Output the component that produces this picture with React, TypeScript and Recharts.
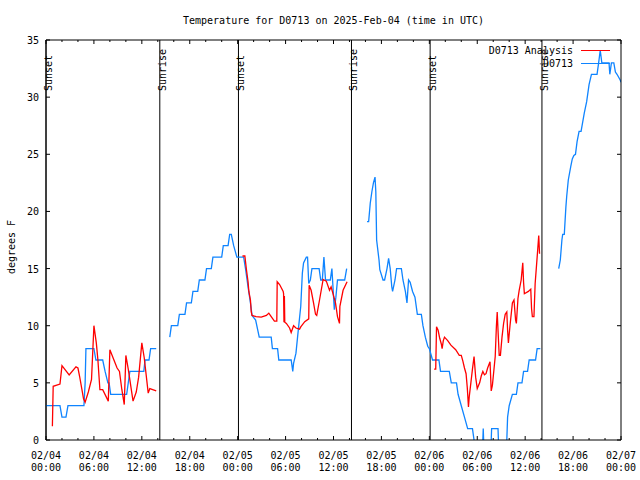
import React from 'react';
import { LineChart, Line, XAxis, YAxis, ReferenceLine, Legend } from 'recharts';

const FONT = '"DejaVu Sans Mono", monospace';
const RED = '#ff0000';
const BLUE = '#0f84ff';

// hours since 02/04 00:00 UTC -> temperature (F)
const ANALYSIS_DAY1 = [
  [0.8, 1.2], [0.9, 4.7], [1.75, 4.9], [2.0, 6.5], [2.9, 5.7], [3.75, 6.4], [4.0, 6.3],
  [4.2, 5.6], [4.5, 4.4], [4.7, 3.6], [4.9, 3.3], [5.3, 4.2], [5.7, 5.3], [6.0, 10.0],
  [6.3, 8.5], [6.5, 7.0], [6.75, 4.4], [7.1, 4.4], [7.8, 3.4], [8.0, 7.9], [8.9, 6.3],
  [9.2, 6.0], [9.5, 4.4], [9.8, 3.1], [10.0, 7.4], [10.3, 6.2], [10.9, 3.4], [11.3, 4.2],
  [11.6, 5.5], [12.0, 8.5], [12.3, 7.2], [12.8, 4.1], [13.0, 4.5], [13.8, 4.3],
];
const ANALYSIS_DAY2 = [
  [24.6, 16.1], [24.9, 16.1], [25.1, 14.9], [25.3, 13.85], [25.4, 13.0], [25.6, 12.25],
  [25.7, 11.2], [25.8, 10.9], [26.3, 10.8], [26.95, 10.75], [27.6, 10.9], [27.9, 11.1],
  [28.2, 10.8], [28.6, 10.4], [28.9, 10.4], [28.95, 13.85], [29.25, 13.6], [29.7, 13.0],
  [29.75, 12.8], [29.8, 10.3], [29.85, 12.6], [29.9, 10.3], [30.1, 10.2], [30.5, 9.8],
  [30.7, 9.4], [30.8, 9.6], [31.0, 10.0], [31.3, 9.8], [31.75, 9.7], [31.9, 9.9],
  [32.4, 10.35], [32.9, 10.6], [32.95, 13.55], [33.2, 13.1], [33.5, 12.0], [33.75, 11.0],
  [33.9, 10.9], [34.25, 12.25], [34.7, 14.05], [35.1, 13.9], [35.5, 13.1], [35.7, 13.4],
  [36.25, 12.0], [36.5, 10.8], [36.75, 10.2], [36.8, 11.7], [37.2, 13.1], [37.7, 13.85],
];
const ANALYSIS_DAY3 = [
  [48.6, 6.2], [48.8, 6.2], [48.9, 9.9], [49.1, 9.6], [49.3, 8.9], [49.5, 8.4], [49.6, 8.0],
  [49.75, 8.7], [49.9, 9.0], [50.3, 8.7], [50.7, 8.3], [51.3, 7.9], [51.75, 7.4], [52.0, 7.4],
  [52.2, 6.9], [52.4, 6.3], [52.6, 5.8], [52.75, 4.6], [52.9, 2.9], [53.0, 3.8], [53.2, 5.0],
  [53.4, 6.2], [53.6, 7.3], [53.8, 5.5], [54.0, 4.5], [54.3, 5.0], [54.5, 5.6], [54.7, 6.0],
  [54.9, 5.7], [55.1, 5.8], [55.3, 6.3], [55.6, 6.85], [55.75, 4.3], [55.9, 4.8], [56.25, 7.3],
  [56.4, 10.0], [56.5, 11.2], [56.6, 9.6], [56.75, 7.4], [56.9, 7.4], [57.1, 9.0], [57.3, 10.2],
  [57.5, 11.0], [57.7, 11.2], [57.8, 9.6], [57.9, 8.5], [58.1, 10.0], [58.4, 12.0], [58.6, 12.25],
  [58.8, 10.5], [58.9, 10.2], [59.1, 12.4], [59.25, 13.1], [59.5, 14.0], [59.7, 15.5],
  [59.8, 13.8], [59.9, 12.8], [60.4, 13.0], [60.7, 13.2], [60.8, 11.5], [60.9, 10.8],
  [61.1, 10.8], [61.25, 13.7], [61.5, 16.0], [61.7, 17.9], [61.8, 16.3],
];

const OBS_DAY1 = [
  [0, 3], [1.75, 3], [2.0, 2], [2.5, 2], [2.75, 3], [4.75, 3], [4.9, 5], [5.0, 8], [6.0, 8],
  [6.25, 7], [7.1, 7], [7.4, 6], [7.75, 5], [7.9, 5], [8.1, 4], [10.1, 4], [10.3, 5],
  [10.5, 6], [12.25, 6], [12.4, 7], [12.9, 7], [13.1, 8], [13.8, 8],
];
const OBS_DAY2 = [
  [15.5, 9], [15.7, 10], [16.5, 10], [16.7, 11], [17.4, 11], [17.6, 12], [18.2, 12], [18.4, 13],
  [19.0, 13], [19.2, 14], [19.9, 14], [20.1, 15], [20.7, 15], [20.9, 16], [22.0, 16], [22.2, 17],
  [22.8, 17], [23.0, 18], [23.2, 18], [23.5, 17], [23.7, 16.5], [23.9, 16], [24.75, 16],
  [25.0, 14.9], [25.3, 13.4], [25.6, 12.0], [25.8, 10.9], [26.25, 10.5], [26.7, 9], [28.2, 9],
  [28.35, 8], [29.0, 8], [29.15, 7], [30.7, 7], [30.9, 6], [31.0, 6.7], [31.3, 7.6], [31.5, 9],
  [31.9, 11.7], [32.1, 14.6], [32.25, 15.5], [32.6, 16], [32.75, 16], [32.9, 13.7], [33.1, 14],
  [33.3, 15], [34.2, 15], [34.4, 14], [34.6, 14], [34.8, 16], [35.0, 14], [35.6, 14], [35.8, 15],
  [36.1, 11.4], [36.3, 12.5], [36.5, 14], [37.4, 14], [37.65, 15],
];
const OBS_DAY3 = [
  [40.2, 19.1], [40.4, 19.1], [40.6, 20.7], [40.8, 21.7], [41.0, 22.5], [41.2, 23.0],
  [41.3, 21.7], [41.4, 17.5], [41.7, 15.75], [41.8, 14.9], [42.2, 14], [42.4, 14], [42.7, 15],
  [42.9, 15.9], [43.1, 15], [43.3, 13.4], [43.4, 13], [43.7, 14], [43.9, 15], [44.5, 15],
  [44.7, 14], [45.0, 13], [45.2, 12], [45.4, 14], [45.6, 13.8], [45.9, 13], [46.2, 12.5],
  [46.5, 11], [47.0, 11], [47.2, 10], [47.5, 9], [47.8, 8.2], [48.0, 8], [48.4, 7], [49.2, 7],
  [49.4, 6], [50.5, 6], [50.75, 5], [51.4, 5], [51.6, 4], [52.0, 3], [52.4, 2], [52.8, 1],
  [53.4, 1], [53.6, 0], [53.7, -1], [54.65, -1], [54.75, 1], [54.85, -1], [55.7, -1],
  [55.8, 1], [56.6, 1], [56.7, -1], [57.6, -1], [57.7, 0], [57.8, 2], [58.0, 3], [58.4, 4],
  [58.9, 4], [59.1, 5], [59.6, 5], [59.8, 6], [60.3, 6], [60.5, 7], [61.3, 7], [61.5, 8],
  [61.9, 8],
];
const OBS_DAY4 = [
  [64.2, 15], [64.4, 15.75], [64.6, 17.5], [64.7, 18], [64.9, 18], [65.1, 20.4], [65.2, 21.3],
  [65.4, 22.75], [65.7, 23.9], [65.9, 24.6], [66.1, 24.9], [66.3, 25], [66.5, 26.1], [66.75, 27],
  [67.0, 27], [67.4, 28.6], [67.7, 29.6], [68.0, 31.1], [68.3, 32], [69.0, 32], [69.2, 33],
  [69.4, 34.1], [69.6, 33], [70.5, 33], [70.6, 32], [70.8, 33], [71.1, 33], [71.3, 32.2],
  [71.5, 32], [71.9, 31.5], [72, 31.3],
];

// sunrise / sunset markers, hours
const SUN_EVENTS: [number, string][] = [
  [0, 'Sunset'], [14.25, 'Sunrise'], [24.1, 'Sunset'],
  [38.25, 'Sunrise'], [48.1, 'Sunset'], [62.1, 'Sunrise'],
];

const X_TICKS = Array.from({ length: 37 }, (_, i) => i * 2);
const DATE_LABELS = ['02/04', '02/04', '02/04', '02/04', '02/05', '02/05', '02/05', '02/05', '02/06', '02/06', '02/06', '02/06', '02/07'];
const TIME_LABELS = ['00:00', '06:00', '12:00', '18:00', '00:00', '06:00', '12:00', '18:00', '00:00', '06:00', '12:00', '18:00', '00:00'];
const Y_TICKS = [0, 5, 10, 15, 20, 25, 30, 35];

const LEGEND_ITEMS = [
  { name: 'D0713 Analysis', color: RED },
  { name: 'D0713', color: BLUE },
];

type Pt = { h: number; t: number | null };

// join segments, putting a null point between them so the line breaks
const joinSegments = (segs: number[][][]): Pt[] =>
  segs.flatMap((seg, i) => {
    const pts: Pt[] = seg.map(([h, t]) => ({ h, t }));
    if (i < segs.length - 1) {
      const gapAt = (seg[seg.length - 1][0] + segs[i + 1][0][0]) / 2;
      pts.push({ h: gapAt, t: null });
    }
    return pts;
  });

const analysisData = joinSegments([ANALYSIS_DAY1, ANALYSIS_DAY2, ANALYSIS_DAY3]);
const obsData = joinSegments([OBS_DAY1, OBS_DAY2, OBS_DAY3, OBS_DAY4]);

const BottomTick = (props: any) => {
  const { x, y, payload } = props;
  const h = payload.value;
  const major = h % 6 === 0;
  const i = h / 6;
  return (
    <g>
      <line x1={x} x2={x} y1={y} y2={y - (major ? 4 : 2)} stroke="#000" />
      {major && (
        <text x={x} textAnchor="middle" fontFamily={FONT} fontSize={10} fill="#000">
          <tspan x={x} y={y + 19}>{DATE_LABELS[i]}</tspan>
          <tspan x={x} y={y + 31}>{TIME_LABELS[i]}</tspan>
        </text>
      )}
    </g>
  );
};

const TopTick = (props: any) => {
  const { x, y, payload } = props;
  const major = payload.value % 6 === 0;
  return <line x1={x} x2={x} y1={y} y2={y + (major ? 4 : 2)} stroke="#000" />;
};

const LeftTick = (props: any) => {
  const { x, y, payload } = props;
  return (
    <g>
      <line x1={x} x2={x + 4} y1={y} y2={y} stroke="#000" />
      <text x={x - 7} y={y + 4} textAnchor="end" fontFamily={FONT} fontSize={10} fill="#000">
        {payload.value}
      </text>
    </g>
  );
};

const RightTick = (props: any) => {
  const { x, y } = props;
  return <line x1={x} x2={x - 4} y1={y} y2={y} stroke="#000" />;
};

const SunLabel = (props: any) => {
  const { viewBox, text } = props;
  if (!viewBox) return null;
  const x = viewBox.x + 6;
  const y = viewBox.y + 51;
  return (
    <text x={x} y={y} transform={`rotate(-90 ${x} ${y})`} fontFamily={FONT} fontSize={10} fill="#000">
      {text}
    </text>
  );
};

const TitleLabel = (props: any) => {
  const { viewBox } = props;
  if (!viewBox) return null;
  return (
    <text x={viewBox.x + viewBox.width / 2} y={24} textAnchor="middle" fontFamily={FONT} fontSize={10} fill="#000">
      Temperature for D0713 on 2025-Feb-04 (time in UTC)
    </text>
  );
};

const YTitle = (props: any) => {
  const { viewBox } = props;
  if (!viewBox) return null;
  const x = 15;
  const y = viewBox.y + 207;
  return (
    <text x={x} y={y} transform={`rotate(-90 ${x} ${y})`} textAnchor="middle" fontFamily={FONT} fontSize={10} fill="#000">
      degrees F
    </text>
  );
};

const LegendBox = () => (
  <div style={{ fontFamily: FONT, fontSize: 10, lineHeight: '13px', color: '#000' }}>
    {LEGEND_ITEMS.map((it) => (
      <div key={it.name} style={{ display: 'flex', alignItems: 'center', justifyContent: 'flex-end', height: 13 }}>
        <span style={{ whiteSpace: 'pre' }}>{it.name}</span>
        <span style={{ display: 'inline-block', width: 29, borderTop: `1px solid ${it.color}`, marginLeft: 8 }} />
      </div>
    ))}
  </div>
);

export default function App() {
  return (
    <div style={{ position: 'absolute', left: 0, top: 0, width: 640, height: 480, background: '#fff' }}>
      <LineChart width={640} height={480} margin={{ top: 0, right: 0, bottom: 0, left: 0 }}>
        <XAxis
          xAxisId="b"
          dataKey="h"
          type="number"
          domain={[0, 72]}
          allowDataOverflow
          ticks={X_TICKS}
          interval={0}
          height={40}
          orientation="bottom"
          stroke="#000"
          tickLine={false}
          tickSize={0}
          tickMargin={0}
          tick={<BottomTick />}
        />
        <XAxis
          xAxisId="t"
          dataKey="h"
          type="number"
          domain={[0, 72]}
          allowDataOverflow
          ticks={X_TICKS}
          interval={0}
          height={40}
          orientation="top"
          stroke="#000"
          tickLine={false}
          tickSize={0}
          tickMargin={0}
          tick={<TopTick />}
          label={<TitleLabel />}
        />
        <YAxis
          yAxisId="l"
          type="number"
          domain={[0, 35]}
          allowDataOverflow
          ticks={Y_TICKS}
          interval={0}
          width={46}
          orientation="left"
          stroke="#000"
          tickLine={false}
          tickSize={0}
          tickMargin={0}
          tick={<LeftTick />}
          label={<YTitle />}
        />
        <YAxis
          yAxisId="r"
          type="number"
          domain={[0, 35]}
          allowDataOverflow
          ticks={Y_TICKS}
          interval={0}
          width={19}
          orientation="right"
          stroke="#000"
          tickLine={false}
          tickSize={0}
          tickMargin={0}
          tick={<RightTick />}
        />
        {SUN_EVENTS.map(([h, text]) => (
          <ReferenceLine
            key={`${text}-${h}`}
            x={h}
            xAxisId="b"
            yAxisId="l"
            stroke="#000"
            strokeWidth={1}
            label={<SunLabel text={text} />}
          />
        ))}
        <Line
          data={obsData}
          xAxisId="b"
          yAxisId="l"
          dataKey="t"
          name="D0713"
          type="linear"
          stroke={BLUE}
          strokeWidth={1.3}
          dot={false}
          connectNulls={false}
          isAnimationActive={false}
        />
        <Line
          data={analysisData}
          xAxisId="b"
          yAxisId="l"
          dataKey="t"
          name="D0713 Analysis"
          type="linear"
          stroke={RED}
          strokeWidth={1.3}
          dot={false}
          connectNulls={false}
          isAnimationActive={false}
        />
        <Legend
          layout="horizontal"
          verticalAlign="middle"
          align="center"
          content={() => <LegendBox />}
          wrapperStyle={{ left: 430, top: 44, width: 180, height: 26 }}
        />
      </LineChart>
    </div>
  );
}
